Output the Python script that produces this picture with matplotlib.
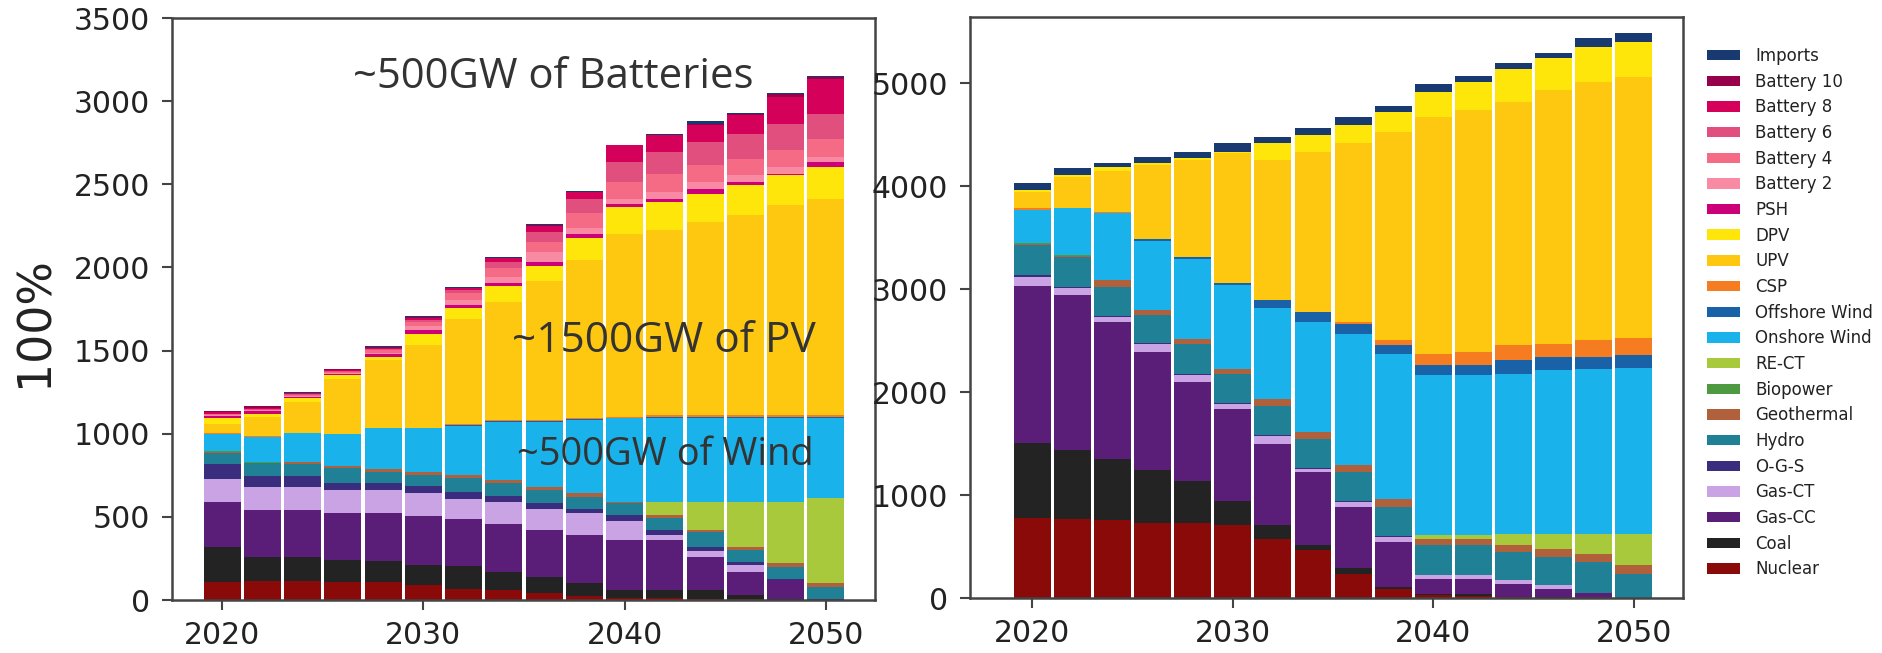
import numpy as np
import matplotlib
matplotlib.use("Agg")
import matplotlib.pyplot as plt
from matplotlib.patches import Patch

# Model years (one bar every two years)
years = [2020, 2022, 2024, 2026, 2028, 2030, 2032, 2034,
         2036, 2038, 2040, 2042, 2044, 2046, 2048, 2050]

# Stack order, bottom to top
techs = ["Nuclear", "Coal", "Gas-CC", "Gas-CT", "O-G-S", "Hydro", "Geothermal",
         "Biopower", "RE-CT", "Onshore Wind", "Offshore Wind", "CSP", "UPV", "DPV",
         "PSH", "Battery 2", "Battery 4", "Battery 6", "Battery 8", "Battery 10",
         "Imports"]

# ---- Left panel: installed capacity (GW) ----
nuclear_cap = [110, 116, 116, 110, 110, 90, 64, 60, 40, 24, 15, 10, 5, 5, 0, 0]
coal_cap = [210, 140, 140, 130, 126, 120, 140, 106, 100, 76, 45, 50, 55, 25, 5, 0]
gascc_cap = [271, 285, 285, 281, 285, 297, 283, 291, 281, 291, 301, 300, 200, 140, 115, 5]
gasct_cap = [136, 140, 140, 140, 140, 134, 120, 134, 124, 130, 116, 30, 36, 40, 0, 0]
ogs_cap = [90, 66, 66, 44, 40, 46, 44, 34, 36, 26, 34, 30, 24, 20, 5, 0]
hydro_cap = [68, 74, 70, 86, 70, 64, 80, 76, 80, 74, 70, 71, 91, 70, 75, 75]
geo_cap = [6, 4, 14, 14, 16, 20, 20, 20, 20, 20, 10, 20, 10, 20, 20, 20]
bio_cap = [6, 4, 0, 0, 0, 0, 0, 0, 0, 0, 0, 0, 0, 0, 0, 0]
rect_cap = [0, 0, 0, 0, 0, 0, 0, 0, 0, 0, 0, 80, 170, 271, 371, 511]
onshore_cap = [103, 152, 171, 191, 245, 261, 295, 351, 391, 441, 501, 501, 501, 501, 501, 481]
offshore_cap = [0, 0, 0, 0, 0, 0, 5, 5, 5, 5, 5, 10, 10, 10, 10, 10]
csp_cap = [3, 3, 3, 4, 5, 5, 5, 5, 5, 5, 5, 10, 10, 10, 10, 10]
upv_cap = [58, 114, 187, 332, 405, 495, 634, 711, 838, 951, 1101, 1111, 1161, 1201, 1262, 1302]
dpv_cap = [34, 18, 20, 20, 20, 68, 65, 96, 90, 131, 161, 171, 171, 181, 180, 190]
psh_cap = [12, 20, 10, 8, 15, 25, 20, 15, 25, 25, 20, 20, 30, 20, 10, 30]
bat2_cap = [5, 4, 5, 6, 10, 20, 30, 40, 55, 40, 30, 40, 40, 40, 40, 30]
bat4_cap = [5, 4, 5, 8, 15, 25, 40, 50, 65, 86, 100, 110, 100, 100, 100, 110]
bat6_cap = [4, 4, 4, 5, 10, 15, 20, 40, 58, 85, 120, 130, 140, 150, 160, 150]
bat8_cap = [8, 6, 7, 5, 6, 12, 10, 20, 35, 45, 100, 100, 105, 110, 160, 210]
bat10_cap = [5, 10, 3, 4, 4, 5, 3, 3, 5, 0, 0, 3, 5, 8, 20, 10]
imports_cap = [2, 2, 2, 3, 3, 3, 3, 3, 7, 5, 3, 3, 15, 6, 6, 10]

# ---- Right panel: generation (TWh) ----
nuclear_gen = [777, 770, 754, 731, 731, 705, 576, 463, 236, 84, 26, 20, 5, 3, 0, 0]
coal_gen = [731, 664, 599, 508, 402, 233, 129, 48, 55, 23, 16, 22, 5, 3, 0, 0]
gascc_gen = [1521, 1508, 1330, 1149, 964, 900, 793, 712, 592, 437, 146, 146, 129, 85, 52, 0]
gasct_gen = [91, 64, 48, 81, 65, 49, 75, 33, 49, 48, 39, 32, 33, 32, 0, 0]
ogs_gen = [15, 16, 10, 10, 10, 10, 10, 10, 10, 10, 0, 0, 0, 0, 0, 0]
hydro_gen = [292, 292, 281, 268, 297, 281, 281, 281, 281, 281, 284, 291, 275, 275, 298, 236]
geo_gen = [10, 8, 65, 49, 48, 48, 65, 65, 65, 81, 65, 65, 64, 81, 80, 88]
bio_gen = [6, 8, 0, 0, 0, 0, 0, 0, 0, 0, 0, 0, 0, 0, 0, 0]
rect_gen = [0, 0, 0, 0, 0, 0, 0, 0, 0, 0, 32, 32, 114, 146, 195, 301]
onshore_gen = [324, 453, 647, 673, 771, 813, 883, 1071, 1278, 1408, 1554, 1554, 1553, 1585, 1601, 1608]
offshore_gen = [0, 0, 0, 21, 26, 16, 81, 97, 97, 81, 97, 97, 129, 130, 114, 129]
csp_gen = [16, 5, 10, 0, 0, 0, 0, 0, 20, 48, 113, 129, 146, 129, 161, 162]
upv_gen = [162, 302, 406, 714, 936, 1262, 1359, 1553, 1731, 2026, 2301, 2349, 2365, 2463, 2512, 2537]
dpv_gen = [16, 16, 30, 15, 20, 16, 162, 162, 178, 194, 243, 276, 314, 307, 333, 340]
psh_gen = [0] * 16
bat2_gen = [0] * 16
bat4_gen = [0] * 16
bat6_gen = [0] * 16
bat8_gen = [0] * 16
bat10_gen = [0] * 16
imports_gen = [71, 65, 46, 65, 64, 81, 58, 65, 74, 55, 74, 55, 59, 55, 87, 81]

capacity = [nuclear_cap, coal_cap, gascc_cap, gasct_cap, ogs_cap, hydro_cap, geo_cap,
            bio_cap, rect_cap, onshore_cap, offshore_cap, csp_cap, upv_cap, dpv_cap,
            psh_cap, bat2_cap, bat4_cap, bat6_cap, bat8_cap, bat10_cap, imports_cap]
generation = [nuclear_gen, coal_gen, gascc_gen, gasct_gen, ogs_gen, hydro_gen, geo_gen,
              bio_gen, rect_gen, onshore_gen, offshore_gen, csp_gen, upv_gen, dpv_gen,
              psh_gen, bat2_gen, bat4_gen, bat6_gen, bat8_gen, bat10_gen, imports_gen]

colors = {
    "Nuclear": "#8a0a0a", "Coal": "#232323", "Gas-CC": "#5a1e78", "Gas-CT": "#c9a3e3",
    "O-G-S": "#3a2d7e", "Hydro": "#1f8096", "Geothermal": "#b0603a", "Biopower": "#4e9a40",
    "RE-CT": "#a9c93c", "Onshore Wind": "#1ab2ea", "Offshore Wind": "#1a62a8",
    "CSP": "#f57c20", "UPV": "#ffc810", "DPV": "#ffe60a", "PSH": "#cc0077",
    "Battery 2": "#f98aa3", "Battery 4": "#f56a85", "Battery 6": "#e04f7e",
    "Battery 8": "#d4005a", "Battery 10": "#97004a", "Imports": "#183a70",
}

W, H = 1883, 653
fig = plt.figure(figsize=(W / 100, H / 100), dpi=100)


def px_axes(x0, y0, x1, y1):
    return fig.add_axes([x0 / W, 1 - y1 / H, (x1 - x0) / W, (y1 - y0) / H])


ax_l = px_axes(172, 18, 875, 600)
ax_r = px_axes(970, 17, 1683, 598)

spine_col = "#444444"
tick_fs = 21.5


def draw_stack(ax, series, xlim):
    bottom = np.zeros(len(years))
    for name, vals in zip(techs, series):
        v = np.asarray(vals, dtype=float)
        ax.bar(years, v, width=1.84, bottom=bottom, color=colors[name],
               linewidth=0, label=name)
        bottom += v
    ax.set_xlim(*xlim)
    ax.set_xticks([2020, 2030, 2040, 2050])
    for s in ax.spines.values():
        s.set_color(spine_col)
        s.set_linewidth(1.8)
    ax.tick_params(axis="both", direction="out", length=7, width=1.5,
                   color=spine_col, labelsize=tick_fs, labelcolor="#222222")
    ax.tick_params(axis="x", pad=8)
    ax.tick_params(axis="y", pad=9)


draw_stack(ax_l, capacity, (2017.5, 2052.45))
ax_l.set_ylim(0, 3500)
ax_l.set_yticks(np.arange(0, 3501, 500))
fig.text(35 / W, 1 - 322 / H, "100%", rotation=90, fontsize=33,
         color="#222222", ha="center", va="center")

draw_stack(ax_r, generation, (2016.9, 2052.45))
ax_r.set_ylim(0, 5641)
ax_r.set_yticks(np.arange(0, 5001, 1000))

# Callouts on the capacity panel
note_kw = dict(family="Open Sans", color="#333333",
               transform=ax_l.transAxes, ha="left", va="baseline")
ax_l.text(0.257, 0.880, "~500GW of Batteries", fontsize=30.2, **note_kw)
ax_l.text(0.484, 0.426, "~1500GW of PV", fontsize=30.5, **note_kw)
ax_l.text(0.491, 0.232, "~500GW of Wind", fontsize=27.4, **note_kw)

# Legend, top entry first
handles = [Patch(facecolor=colors[n], edgecolor="none", label=n) for n in techs[::-1]]
fig.legend(handles=handles, loc="upper left", frameon=False,
           bbox_to_anchor=(1707 / W, 1 - 47 / H), bbox_transform=fig.transFigure,
           fontsize=12, labelspacing=0.46, handlelength=2.0, handleheight=0.6,
           handletextpad=0.9, borderaxespad=0, borderpad=0,
           labelcolor="#222222")

fig.savefig("out.png", dpi=100, facecolor="white")
